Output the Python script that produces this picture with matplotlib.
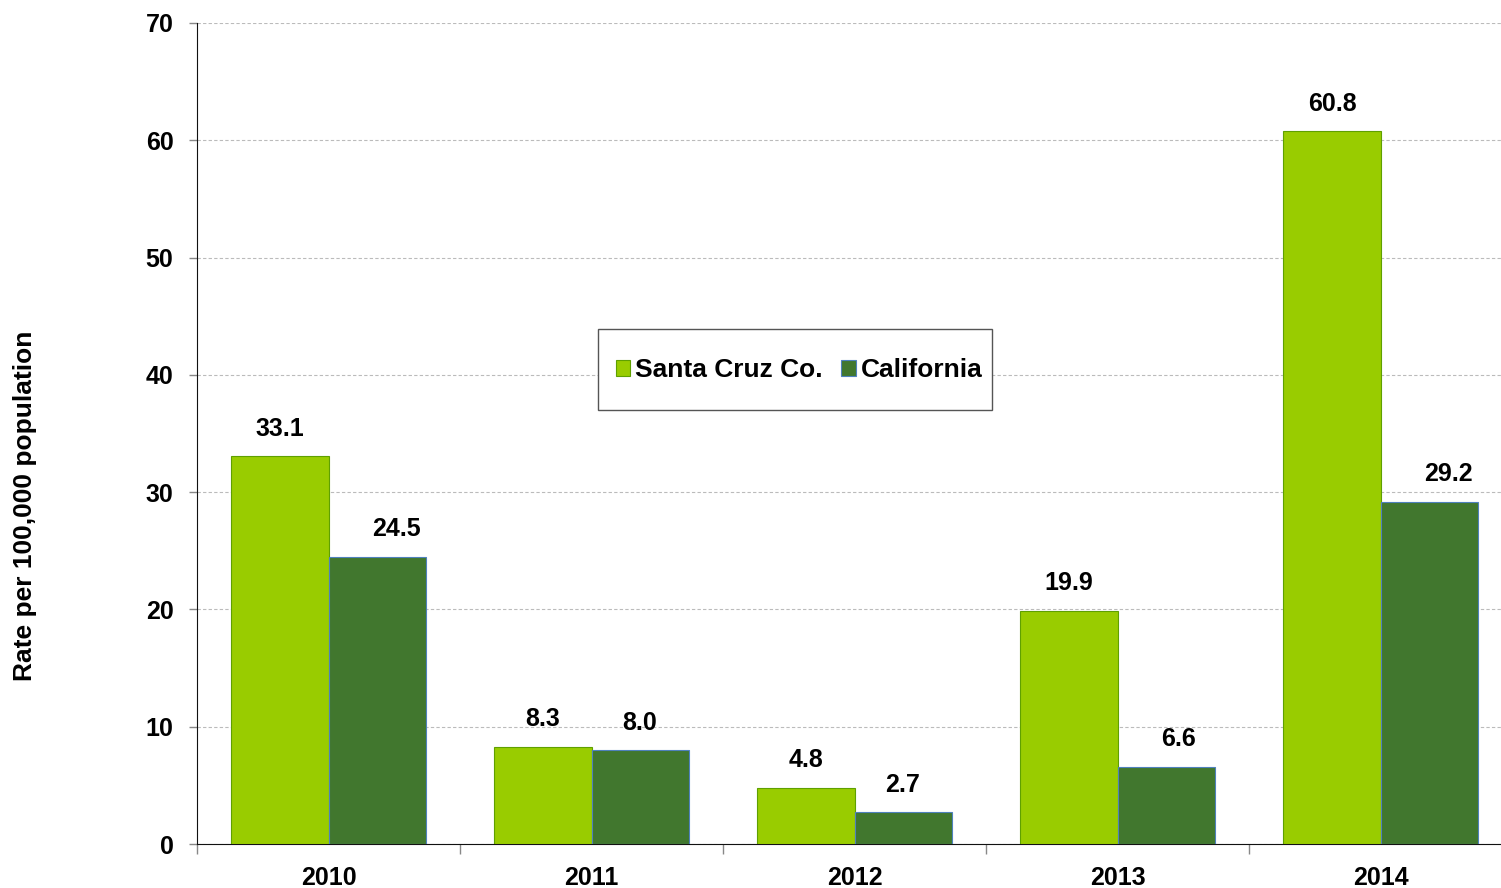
import numpy as np
import matplotlib.pyplot as plt
from matplotlib.patches import Rectangle
from matplotlib.transforms import IdentityTransform

plt.rcParams['font.family'] = ['Liberation Sans', 'DejaVu Sans']
plt.rcParams['font.weight'] = 'bold'

years = ["2010", "2011", "2012", "2013", "2014"]
santa_cruz = [33.1, 8.3, 4.8, 19.9, 60.8]
california = [24.5, 8.0, 2.7, 6.6, 29.2]

fig = plt.figure(figsize=(15.01, 8.88), dpi=100)
ax = fig.add_axes([197/1501, 1 - 844/888, 1315/1501, (844 - 23)/888])

x = np.arange(len(years))
w = 0.369
b1 = ax.bar(x - w/2, santa_cruz, w, color="#99CC00", edgecolor="#5FA000",
            linewidth=0.8, label="Santa Cruz Co.", zorder=3)
b2 = ax.bar(x + w/2, california, w, color="#41772E", edgecolor="#4F81BD",
            linewidth=0.8, label="California", zorder=3)

# value labels; the California ones sit a little right of the bar on tall bars
for bars, vals, dx in ((b1, santa_cruz, [0, 0, 0, 0, 0]),
                       (b2, california, [14, 0, 0, 9, 14])):
    for r, v, d in zip(bars, vals, dx):
        ax.annotate(f"{v:.1f}", (r.get_x() + r.get_width()/2, v),
                    xytext=(d, 11), textcoords="offset points",
                    ha="center", va="bottom", fontsize=18, fontweight="bold")

ax.set_xlim(-0.5, len(years) - 0.5)
ax.set_ylim(0, 70)
ax.set_yticks(np.arange(0, 71, 10))
ax.set_xticks(x)
ax.set_xticklabels(years)
ax.set_xticks(np.arange(-0.5, len(years), 1), minor=True)
ax.tick_params(axis="x", which="major", length=0, pad=16, labelsize=18)
ax.tick_params(axis="x", which="minor", length=7, color="#888888", width=1)
ax.tick_params(axis="y", length=6, color="#888888", width=1, labelsize=18, pad=11)

ax.yaxis.grid(True, linestyle=(0, (3, 2)), color="#BBBBBB", linewidth=0.8, zorder=0)
for s in ("top", "right"):
    ax.spines[s].set_visible(False)
ax.spines["left"].set_color("#111111")
ax.spines["bottom"].set_color("#111111")

fig.text(25/1501, 1 - 506/888, "Rate per 100,000 population", rotation=90,
         ha="center", va="center", fontsize=19, fontweight="bold")

# legend without its own frame; the box is drawn separately with uneven padding
leg = ax.legend(loc="center", bbox_to_anchor=((799 - 197)/1315, (844 - 370)/821),
                ncol=2, frameon=False, fontsize=19, handlelength=0.55,
                handleheight=0.55, handletextpad=0.19, columnspacing=0.7,
                borderpad=0, borderaxespad=0)
fig.canvas.draw()
bb = leg.get_window_extent()
box = Rectangle((bb.x0 - 18, bb.y0 - (81 - bb.height)/2), bb.width + 28, 81,
                transform=IdentityTransform(), facecolor="white",
                edgecolor="#555555", linewidth=1.0, zorder=4)
fig.add_artist(box)
leg.set_zorder(5)
leg.remove()
fig.add_artist(leg)

fig.savefig("out.png", dpi=100)
